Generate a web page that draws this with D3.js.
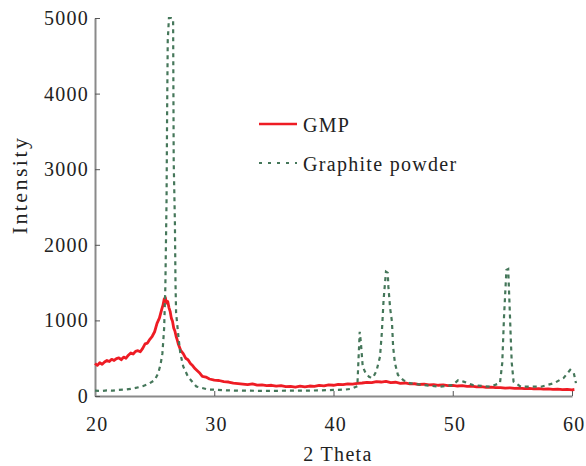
<!DOCTYPE html>
<html><head><meta charset="utf-8">
<script src="https://cdn.jsdelivr.net/npm/d3@7"></script>
<style>body{margin:0;background:#fff}svg{display:block}</style>
</head><body><svg id="c" width="586" height="466"></svg>
<script>
const xTicks=[20,30,40,50,60];
const yTicks=[0,1000,2000,3000,4000,5000];
const seriesNames=["GMP","Graphite powder"];
const gmpX=[20.0,20.2,20.4,20.6,20.8,21.0,21.2,21.4,21.6,21.8,22.0,22.2,22.4,22.6,22.8,23.0,23.2,23.4,23.6,23.8,24.0,24.2,24.4,24.6,24.8,25.0,25.2,25.4,25.6,25.7,25.8,25.9,26.0,26.1,26.2,26.3,26.4,26.5,26.6,26.7,26.8,26.9,27.0,27.2,27.4,27.6,27.8,28.0,28.2,28.4,28.6,28.8,29.0,29.3,29.6,30.0,30.4,30.8,31.2,31.6,32.0,32.4,32.8,33.2,33.6,34.0,34.4,34.8,35.2,35.6,36.0,36.4,36.8,37.2,37.6,38.0,38.4,38.8,39.2,39.6,40.0,40.4,40.8,41.2,41.6,42.0,42.4,42.8,43.2,43.6,44.0,44.4,44.8,45.2,45.6,46.0,46.4,46.8,47.2,47.6,48.0,48.4,48.8,49.2,49.6,50.0,50.4,50.8,51.2,51.6,52.0,52.4,52.8,53.2,53.6,54.0,54.4,54.8,55.2,55.6,56.0,56.4,56.8,57.2,57.6,58.0,58.4,58.8,59.2,59.6,60.0,60.2];
const gmpY=[430,405,440,420,450,470,455,485,470,495,505,480,515,500,540,570,555,590,600,585,630,690,700,750,790,850,960,1030,1150,1200,1280,1300,1230,1250,1170,1120,1030,990,900,860,790,740,680,600,560,500,480,430,400,360,330,300,260,250,225,210,205,190,185,170,165,158,150,160,145,148,138,142,130,136,124,128,118,130,120,132,128,140,135,148,142,155,150,160,158,168,172,180,176,190,185,194,178,182,168,172,160,162,152,156,146,150,142,146,138,140,132,136,128,130,122,124,115,118,110,112,104,108,100,104,98,100,94,97,90,94,88,90,84,88,82,86,80,82,78,76];
const gpX=[20.0,20.5,21.0,21.5,22.0,22.5,23.0,23.5,24.0,24.5,25.0,25.3,25.5,25.65,25.8,25.9,26.0,26.05,26.1,26.2,26.4,26.55,26.6,26.7,26.75,26.8,27.0,27.15,27.4,27.8,28.5,29.5,30.0,31.0,32.0,33.0,34.0,35.0,36.0,37.0,38.0,39.0,40.0,41.0,41.5,42.0,42.1,42.2,42.3,42.45,42.7,43.0,43.3,43.6,43.9,44.05,44.2,44.4,44.55,44.6,44.75,44.9,45.0,45.15,45.4,45.85,46.4,47.5,48.9,50.0,50.45,50.9,51.7,53.1,53.96,54.15,54.3,54.5,54.65,54.8,54.87,54.95,55.1,55.7,57.4,58.5,59.3,59.85,60.15,60.33];
const gpY=[70,65,75,70,80,85,95,110,130,160,210,300,420,560,900,1450,2600,3800,4700,5000,5000,4990,3100,2300,1500,1100,780,570,390,255,125,85,85,75,70,70,68,68,70,70,72,75,80,85,95,130,500,850,700,390,300,250,240,330,520,830,1270,1645,1630,1450,1160,985,650,435,280,210,170,145,123,145,210,190,145,123,170,435,1050,1667,1680,1050,740,435,190,123,123,170,240,345,305,170];

const FONT='"Liberation Serif","DejaVu Serif",serif';
const LS=1.25;
const svg=d3.select("#c").attr("font-family",FONT);
const x=d3.scaleLinear().domain([20,60]).range([95,572]);
const y=d3.scaleLinear().domain([0,5000]).range([396,18]);
const axisColor="#8a8a8a";

const xa=svg.append("g").attr("transform","translate(0,396)")
  .call(d3.axisBottom(x).tickValues(xTicks).tickSizeInner(-5).tickSizeOuter(0).tickPadding(35).tickFormat(d3.format("d")));
const ya=svg.append("g").attr("transform","translate(95,0)")
  .call(d3.axisLeft(y).tickValues(yTicks).tickSizeInner(-5).tickSizeOuter(0).tickPadding(6).tickFormat(d3.format("d")));
[xa,ya].forEach(a=>{
  a.attr("font-family",FONT).attr("font-size",20);
  a.select(".domain").attr("stroke",axisColor).attr("stroke-width",2);
  a.selectAll(".tick line").attr("stroke","#555").attr("stroke-width",1);
  a.selectAll(".tick text").attr("fill","#222").attr("letter-spacing",LS);
});
xa.selectAll(".tick text").attr("dy","0").attr("dx",LS/2+1);
ya.selectAll(".tick text").attr("dy","0.32em");

const line=d3.line().x(d=>x(d[0])).y(d=>y(d[1]));
const gmp=gmpX.map((v,i)=>[v,gmpY[i]]);
const gp=gpX.map((v,i)=>[v,gpY[i]]);
const red="#ee1c24", green="#45775a";
svg.append("path").datum(gmp).attr("d",line).attr("fill","none").attr("stroke",red).attr("stroke-width",2.8).attr("stroke-linejoin","round");
svg.append("path").datum(gp).attr("d",line).attr("fill","none").attr("stroke",green).attr("stroke-width",2.2).attr("stroke-dasharray","4,4");

const leg=svg.append("g");
const items=[{n:seriesNames[0],c:red,d:null,w:2.5,y:124},{n:seriesNames[1],c:green,d:"3,6",w:2,y:163}];
items.forEach(it=>{
  leg.append("line").attr("x1",259).attr("x2",297).attr("y1",it.y).attr("y2",it.y).attr("stroke",it.c).attr("stroke-width",it.w).attr("stroke-dasharray",it.d);
  leg.append("text").attr("x",303).attr("y",it.y+8).attr("font-size",20).attr("letter-spacing",1.3).attr("fill","#222").text(it.n);
});

svg.append("text").attr("x",338).attr("y",461).attr("text-anchor","middle").attr("font-size",20).attr("letter-spacing",1.3).attr("fill","#222").text("2 Theta");
svg.append("text").attr("transform","translate(27,185) rotate(-90)").attr("text-anchor","middle").attr("font-size",22).attr("letter-spacing",2.4).attr("fill","#222").text("Intensity");
</script></body></html>
